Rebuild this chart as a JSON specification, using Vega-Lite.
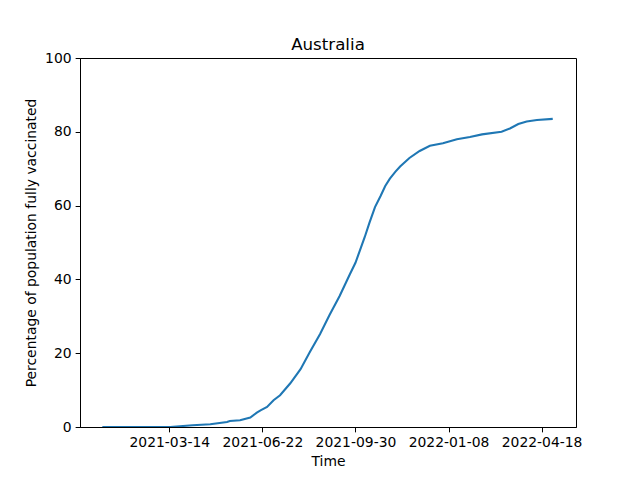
{
  "$schema": "https://vega.github.io/schema/vega-lite/v6.json",
  "width": 496,
  "height": 369,
  "autosize": {"type": "none"},
  "padding": {"left": 80, "top": 58, "right": 64, "bottom": 53},
  "background": "white",
  "title": {"text": "Australia", "fontSize": 16.67, "fontWeight": "normal", "font": "DejaVu Sans", "color": "black", "offset": -3},
  "data": {"values": [
    {"date": "2021-01-01", "pct": 0},
    {"date": "2021-02-22", "pct": 0},
    {"date": "2021-03-15", "pct": 0.02},
    {"date": "2021-04-08", "pct": 0.46},
    {"date": "2021-04-27", "pct": 0.73},
    {"date": "2021-05-15", "pct": 1.36},
    {"date": "2021-05-18", "pct": 1.63},
    {"date": "2021-05-29", "pct": 1.82},
    {"date": "2021-06-09", "pct": 2.55},
    {"date": "2021-06-16", "pct": 3.91},
    {"date": "2021-06-20", "pct": 4.53},
    {"date": "2021-06-27", "pct": 5.43},
    {"date": "2021-07-04", "pct": 7.25},
    {"date": "2021-07-11", "pct": 8.6},
    {"date": "2021-07-22", "pct": 11.85},
    {"date": "2021-08-02", "pct": 15.66},
    {"date": "2021-08-12", "pct": 20.3},
    {"date": "2021-08-23", "pct": 25.2},
    {"date": "2021-09-02", "pct": 30.3},
    {"date": "2021-09-13", "pct": 35.5},
    {"date": "2021-09-24", "pct": 41.4},
    {"date": "2021-09-30", "pct": 44.5},
    {"date": "2021-10-05", "pct": 48.0},
    {"date": "2021-10-10", "pct": 51.5},
    {"date": "2021-10-15", "pct": 55.3},
    {"date": "2021-10-21", "pct": 59.6},
    {"date": "2021-10-27", "pct": 62.6},
    {"date": "2021-11-01", "pct": 65.3},
    {"date": "2021-11-06", "pct": 67.3},
    {"date": "2021-11-12", "pct": 69.2},
    {"date": "2021-11-17", "pct": 70.6},
    {"date": "2021-11-27", "pct": 72.9},
    {"date": "2021-12-08", "pct": 74.8},
    {"date": "2021-12-19", "pct": 76.2},
    {"date": "2022-01-02", "pct": 76.9},
    {"date": "2022-01-17", "pct": 78.0},
    {"date": "2022-01-31", "pct": 78.6},
    {"date": "2022-02-13", "pct": 79.3},
    {"date": "2022-03-06", "pct": 80.0},
    {"date": "2022-03-15", "pct": 80.9},
    {"date": "2022-03-24", "pct": 82.1},
    {"date": "2022-04-02", "pct": 82.8},
    {"date": "2022-04-13", "pct": 83.2},
    {"date": "2022-04-30", "pct": 83.5}
  ]},
  "mark": {"type": "line", "color": "#1f77b4", "strokeWidth": 2.08, "clip": true},
  "encoding": {
    "x": {
      "field": "date",
      "type": "temporal",
      "title": "Time",
      "scale": {
        "type": "utc",
        "domain": [
          {"year": 2020, "month": 12, "date": 8, "utc": true},
          {"year": 2022, "month": 5, "date": 25, "utc": true}
        ]
      },
      "axis": {
        "values": [
          {"year": 2021, "month": 3, "date": 14, "utc": true},
          {"year": 2021, "month": 6, "date": 22, "utc": true},
          {"year": 2021, "month": 9, "date": 30, "utc": true},
          {"year": 2022, "month": 1, "date": 8, "utc": true},
          {"year": 2022, "month": 4, "date": 18, "utc": true}
        ],
        "labelExpr": "utcFormat(datum.value, '%Y-%m-%d')",
        "labelOverlap": false,
        "labelFlush": false,
        "grid": false,
        "titlePadding": 5
      }
    },
    "y": {
      "field": "pct",
      "type": "quantitative",
      "title": "Percentage of population fully vaccinated",
      "scale": {"domain": [0, 100], "nice": false, "zero": false},
      "axis": {"values": [0, 20, 40, 60, 80, 100], "grid": false, "titlePadding": 6}
    }
  },
  "config": {
    "font": "DejaVu Sans",
    "view": {"stroke": "black", "strokeWidth": 1},
    "axis": {
      "labelFont": "DejaVu Sans",
      "titleFont": "DejaVu Sans",
      "labelFontSize": 13.9,
      "titleFontSize": 13.9,
      "titleFontWeight": "normal",
      "labelColor": "black",
      "titleColor": "black",
      "tickColor": "black",
      "domainColor": "black",
      "tickSize": 4.86,
      "labelPadding": 4,
      "tickWidth": 1,
      "domainWidth": 1
    }
  }
}
